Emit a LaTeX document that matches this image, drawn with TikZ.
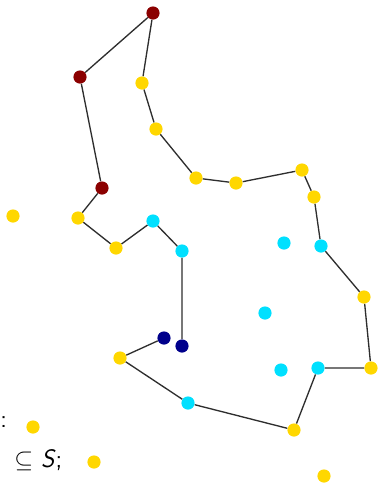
\documentclass[tikz,border=0pt]{standalone}
\usetikzlibrary{calc}
\definecolor{ink}{HTML}{2E2E2E}
\definecolor{depot}{HTML}{8B0000}
\definecolor{gold}{HTML}{FFD700}
\definecolor{sky}{HTML}{00E0FF}
\definecolor{deep}{HTML}{00008B}
\tikzset{dot/.style={circle,inner sep=0pt,minimum size=0.33cm,draw=none}}
\newcommand{\city}[3]{%
  \node[dot,fill=#3] (#1) at #2 {};}

\begin{document}
\begin{tikzpicture}[x=0.025cm,y=-0.025cm]
  \useasboundingbox (0,0) rectangle (379,483);

  % red points
  \city{r1}{(153,13)}{depot}
  \city{r2}{(80,77)}{depot}
  \city{r3}{(102,188)}{depot}
  % yellow points
  \city{g1}{(142,83)}{gold}
  \city{g2}{(156,129)}{gold}
  \city{g3}{(196,178)}{gold}
  \city{g4}{(236,183)}{gold}
  \city{g5}{(302,170)}{gold}
  \city{g6}{(314,197)}{gold}
  \city{g7}{(364,297)}{gold}
  \city{g8}{(371,368)}{gold}
  \city{g9}{(294,430)}{gold}
  \city{g10}{(120,358)}{gold}
  \city{g11}{(78,218)}{gold}
  \city{g12}{(116,248)}{gold}
  \city{g13}{(13,216)}{gold}
  \city{g14}{(33,427)}{gold}
  \city{g15}{(94,462)}{gold}
  \city{g16}{(324,476)}{gold}
  % cyan points
  \city{c1}{(153,221)}{sky}
  \city{c2}{(182,251)}{sky}
  \city{c3}{(284,243)}{sky}
  \city{c4}{(321,246)}{sky}
  \city{c5}{(265,313)}{sky}
  \city{c6}{(281,370)}{sky}
  \city{c7}{(318,368)}{sky}
  \city{c8}{(188,403)}{sky}
  % blue points
  \city{n1}{(164,338)}{deep}
  \city{n2}{(182,346)}{deep}

  \begin{scope}[ink,line width=0.95pt]
    \draw (r1) -- (r2) -- (r3) -- (g11) -- (g12) -- (c1) -- (c2) -- (n2);
    \draw (n1) -- (g10) -- (c8) -- (g9) -- (c7) -- (g8) -- (g7) -- (c4)
          -- (g6) -- (g5) -- (g4) -- (g3) -- (g2) -- (g1) -- (r1);
  \end{scope}

  % cut text on the left
  \node[anchor=base west,inner sep=0pt,font=\sffamily\fontsize{18}{21}\selectfont]
       (colon) at (0,427) {:};
  \node[anchor=base west,inner sep=0pt,font=\sffamily\fontsize{18}{21}\selectfont]
       (subset) at (14,467) {$\subseteq$ \textit{S};};
\end{tikzpicture}
\end{document}
